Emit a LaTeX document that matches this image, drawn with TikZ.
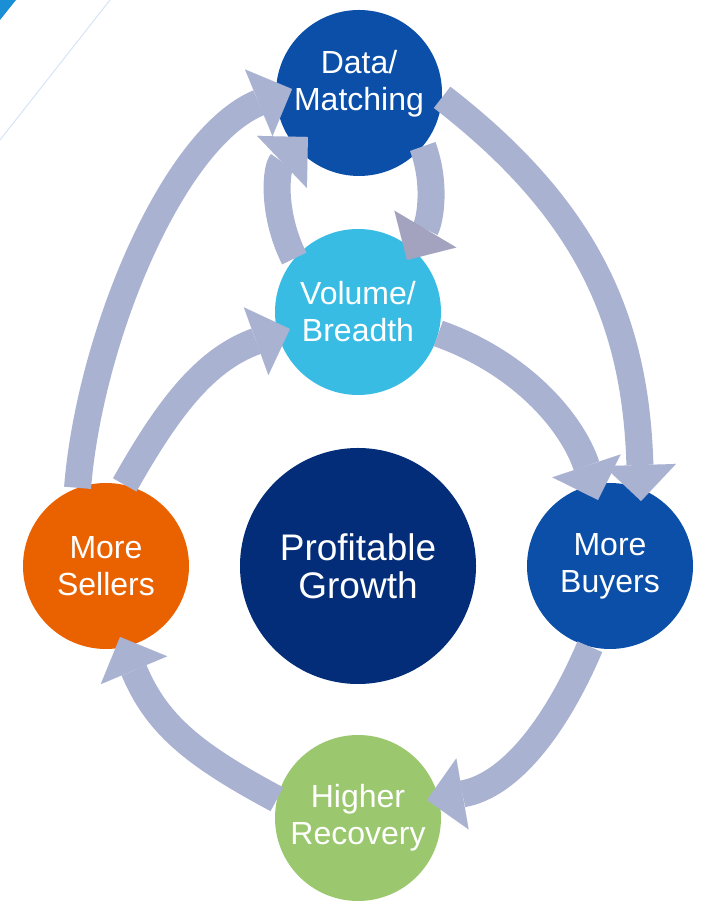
\documentclass[tikz,border=0pt]{standalone}
\usepackage{fontspec}
\setmainfont{Liberation Sans}
\usetikzlibrary{arrows.meta}
\definecolor{dblue}{HTML}{0B4FA8}
\definecolor{lblue}{HTML}{38BCE4}
\definecolor{navy}{HTML}{032D78}
\definecolor{orangec}{HTML}{EA6100}
\definecolor{greenc}{HTML}{9BC86E}
\definecolor{bandc}{HTML}{AAB2D2}
\definecolor{headdark}{HTML}{A3A3C0}
\definecolor{cornerblue}{HTML}{1B8FD6}
\definecolor{faintline}{HTML}{D6E4F5}
\begin{document}
\begin{tikzpicture}[x=1pt,y=1pt,
  circ/.style={circle, minimum size=166pt, inner sep=0pt, text=white, align=center,
    font=\fontsize{32}{37}\selectfont},
  lbl/.style={text=white, align=center, inner sep=0pt, font=\fontsize{32}{37}\selectfont},
  band/.style={line width=27pt, draw=bandc,
    -{Triangle[width=72pt,length=36pt,line width=0.01pt]}},
  darkband/.style={line width=27pt, draw=bandc,
    -{Triangle[width=72pt,length=36pt,line width=0.01pt,color=headdark]}}
]
\useasboundingbox (0,0) rectangle (705,901);
\fill[cornerblue] (0,901) -- (16,901) -- (0,881) -- cycle;
\draw[faintline, line width=1pt] (110,901) -- (0,761);

\node[circ, fill=dblue] (data) at (359,808) {};
\node[lbl] (datatext) at ([yshift=9pt]data.center) {Data/\\Matching};
\node[circ, fill=lblue] (volume) at (358,589) {Volume/\\Breadth};
\node[circ, fill=navy, minimum size=236pt, font=\fontsize{37}{38}\selectfont] (growth) at (358,335) {Profitable\\Growth};
\node[circ, fill=orangec] (sellers) at (106,335) {More\\Sellers};
\node[circ, fill=dblue] (buyers) at (610,335) {More\\Buyers};
\node[circ, fill=greenc] (recovery) at (358,83) {Higher\\Recovery};

% Sellers -> Data (outer left)
\draw[band] (sellers.110) .. controls (89.6,563) and (172.4,762.6) .. ([shift={(176.6:67.1)}]data.center);
% Data -> Buyers (outer right)
\draw[band] (data.-3) .. controls (588,690.8) and (635.6,580) .. ([shift={(64.5:72)}]buyers.center);
% Volume -> Data (inner loop left)
\draw[band] (volume.140) .. controls (271.9,686.9) and (275.6,733) .. ([shift={(220.8:67.4)}]data.center);
% Data -> Volume (inner loop right)
\draw[darkband] (data.-40) .. controls (436.6,717) and (430,679.7) .. ([shift={(46.7:71.4)}]volume.center);
% Volume -> Buyers
\draw[band] (volume.-15) .. controls (518.1,539.4) and (570.8,481.75) .. ([shift={(100.3:67.1)}]buyers.center);
% Sellers -> Volume
\draw[band] (sellers.77) .. controls (168.8,494.2) and (205.4,541.4) .. ([shift={(194:70.1)}]volume.center);
% Buyers -> Recovery
\draw[band] (buyers.256) .. controls (556.7,176.3) and (510.7,115.45) .. ([shift={(14.6:71.3)}]recovery.center);
% Recovery -> Sellers
\draw[band] (recovery.167) .. controls (193.5,146.35) and (156.7,176.6) .. ([shift={(-78.8:72.4)}]sellers.center);
\end{tikzpicture}
\end{document}
